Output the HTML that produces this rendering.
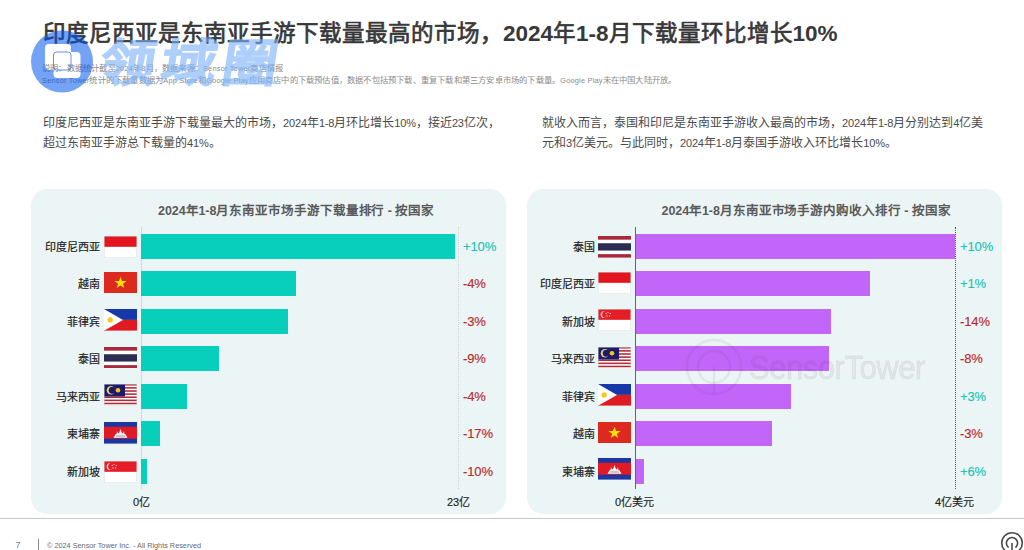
<!DOCTYPE html>
<html lang="zh-CN"><head><meta charset="utf-8">
<style>
*{margin:0;padding:0;box-sizing:border-box}
html,body{width:1024px;height:550px;overflow:hidden;background:#fff}
body{position:relative;font-family:"Liberation Sans",sans-serif;color:#333}
.a{position:absolute;white-space:nowrap}
.title{left:43px;top:19.5px;font-size:22.5px;font-weight:normal;-webkit-text-stroke:0.7px #383838;color:#383838;line-height:28px}
.tb{font-weight:bold;-webkit-text-stroke:0}
.sub{left:42px;font-size:8.3px;letter-spacing:0.2px;color:#8a8a8a;line-height:12px}
.para{font-size:12px;color:#4a4a4a;line-height:20px}
.n{font-size:11px;letter-spacing:-0.15px}
.sl{font-size:7.4px}
.panel{position:absolute;top:189px;height:325px;background:#ecf5f5;border-radius:16px}
.ctitle{font-size:12.5px;margin-top:2px;letter-spacing:-0.07px;font-weight:bold;color:#5a5a5a;line-height:16px}
.lab{font-size:11px;color:#222;font-weight:normal;-webkit-text-stroke:0.2px #222;line-height:14px;text-align:right;width:80px;margin-top:0px}
.bar{position:absolute;height:25px}
.t{background:#07cfbc}
.p{background:#c266fa}
.pct{font-size:13px;line-height:16px;font-weight:normal;-webkit-text-stroke:0.15px currentColor;letter-spacing:-0.1px}
.pos{color:#1cc4b4}
.neg{color:#b8292f}
.axl{font-size:11px;color:#222;line-height:14px;-webkit-text-stroke:0.15px #222}
.flag{position:absolute;width:33px;height:21.8px;overflow:hidden}
</style></head><body>

<svg width="0" height="0" style="position:absolute">
<defs>
<symbol id="f-id" viewBox="0 0 33 22"><rect width="33" height="11" fill="#e3161f"/><rect y="11" width="33" height="11" fill="#fff"/><rect x=".25" y=".25" width="32.5" height="21.5" fill="none" stroke="#d8d8d8" stroke-width=".5"/></symbol>
<symbol id="f-vn" viewBox="0 0 33 22"><rect width="33" height="22" fill="#dc2a1f"/><polygon fill="#ffe000" points="16.5,4.8 18,9.1 22.6,9.1 18.9,11.8 20.3,16.2 16.5,13.5 12.7,16.2 14.1,11.8 10.4,9.1 15,9.1"/></symbol>
<symbol id="f-ph" viewBox="0 0 33 22"><rect width="33" height="11" fill="#1738a8"/><rect y="11" width="33" height="11" fill="#e01a22"/><polygon points="0,0 19,11 0,22" fill="#fff"/><circle cx="6.2" cy="11" r="2.6" fill="#f7c51c"/></symbol>
<symbol id="f-th" viewBox="0 0 33 22"><rect width="33" height="22" fill="#fff"/><rect width="33" height="3.7" fill="#a8283c"/><rect y="18.3" width="33" height="3.7" fill="#a8283c"/><rect y="7.3" width="33" height="7.4" fill="#2b2d52"/></symbol>
<symbol id="f-my" viewBox="0 0 33 22"><rect width="33" height="22" fill="#fff"/>
<rect y="0" width="33" height="1.57" fill="#b02a36"/><rect y="3.14" width="33" height="1.57" fill="#b02a36"/><rect y="6.28" width="33" height="1.57" fill="#b02a36"/><rect y="9.43" width="33" height="1.57" fill="#b02a36"/><rect y="12.57" width="33" height="1.57" fill="#b02a36"/><rect y="15.71" width="33" height="1.57" fill="#b02a36"/><rect y="18.86" width="33" height="1.57" fill="#b02a36"/>
<rect width="21" height="12.6" fill="#1c1a6a"/><circle cx="7" cy="6.3" r="4.3" fill="#e0d070"/><circle cx="8.4" cy="6.3" r="3.6" fill="#1c1a6a"/><circle cx="14" cy="6.3" r="2.3" fill="#f5c21b"/><rect x=".25" y=".25" width="32.5" height="21.5" fill="none" stroke="#ccc" stroke-width=".5"/></symbol>
<symbol id="f-kh" viewBox="0 0 33 22"><rect width="33" height="22" fill="#1d36a0"/><rect y="4.8" width="33" height="12" fill="#e11b25"/><path fill="#fff" d="M9.5 16 L11.8 12 L12.6 12 L13 9 L13.8 11.4 L15 11.4 L16.5 7 L18 11.4 L19.2 11.4 L20 9 L20.4 12 L21.2 12 L23.5 16 Z"/><rect x="12" y="12.8" width="9" height="2.4" fill="#c4c8d4"/></symbol>
<symbol id="f-sg" viewBox="0 0 33 22"><rect width="33" height="11" fill="#e51d27"/><rect y="11" width="33" height="11" fill="#fff"/><circle cx="6.2" cy="5.5" r="3.6" fill="#f6c9c9"/><circle cx="7.6" cy="5.5" r="3.4" fill="#e51d27"/><g fill="#f3c0c0"><circle cx="10" cy="3.4" r=".7"/><circle cx="12.2" cy="4.6" r=".7"/><circle cx="11.6" cy="7.1" r=".7"/><circle cx="9" cy="7.1" r=".7"/><circle cx="8.2" cy="4.6" r=".7"/></g><rect x=".25" y=".25" width="32.5" height="21.5" fill="none" stroke="#d8d8d8" stroke-width=".5"/></symbol>
</defs></svg>
<div class="a title">印度尼西亚是东南亚手游下载量最高的市场，<span class="tb">2024</span>年<span class="tb">1-8</span>月下载量环比增长<span class="tb">10%</span></div>
<div class="a sub" style="top:62px">说明：数据统计截至<span class="sl">2024</span>年<span class="sl">8</span>月，数据来源：<span class="sl">Sensor Tower</span>商店情报</div>
<div class="a sub" style="top:74px"><span class="sl">Sensor Tower</span>统计的下载量数据为<span class="sl">App Store</span>和<span class="sl">Google Play</span>应用商店中的下载预估值，数据不包括预下载、重复下载和第三方安卓市场的下载量。<span class="sl">Google Play</span>未在中国大陆开放。</div>

<div class="a para" style="left:43px;top:113px">印度尼西亚是东南亚手游下载量最大的市场，<span class="n">2024</span>年<span class="n">1-8</span>月环比增长<span class="n">10%</span>，接近<span class="n">23</span>亿次，<br>超过东南亚手游总下载量的<span class="n">41%</span>。</div>
<div class="a para" style="left:542px;top:113px">就收入而言，泰国和印尼是东南亚手游收入最高的市场，<span class="n">2024</span>年<span class="n">1-8</span>月分别达到<span class="n">4</span>亿美<br>元和<span class="n">3</span>亿美元。与此同时，<span class="n">2024</span>年<span class="n">1-8</span>月泰国手游收入环比增长<span class="n">10%</span>。</div>

<div class="panel" style="left:31px;width:475px"></div>
<div class="panel" style="left:527px;width:475px"></div>

<div class="a ctitle" style="left:158px;top:201px">2024年1-8月东南亚市场手游下载量排行 - 按国家</div>
<div class="a ctitle" style="left:661.5px;top:201px">2024年1-8月东南亚市场手游内购收入排行 - 按国家</div>

<!-- left chart -->
<div class="a" style="left:141px;top:227px;width:1px;height:262px;background:#d3d9da"></div>
<div class="a" style="left:458px;top:227px;width:0;height:262px;border-left:1px dotted #ccd3d3"></div>
<div class="bar t" style="left:141px;top:234px;width:314px"></div>
<div class="bar t" style="left:141px;top:271px;width:155px"></div>
<div class="bar t" style="left:141px;top:309px;width:147px"></div>
<div class="bar t" style="left:141px;top:346px;width:78px"></div>
<div class="bar t" style="left:141px;top:384px;width:46px"></div>
<div class="bar t" style="left:141px;top:421px;width:19px"></div>
<div class="bar t" style="left:141px;top:459px;width:6px"></div>

<div class="a lab" style="left:20px;top:239.5px">印度尼西亚</div>
<div class="a lab" style="left:20px;top:276.5px">越南</div>
<div class="a lab" style="left:20px;top:314.5px">菲律宾</div>
<div class="a lab" style="left:20px;top:351.5px">泰国</div>
<div class="a lab" style="left:20px;top:389.5px">马来西亚</div>
<div class="a lab" style="left:20px;top:426.5px">柬埔寨</div>
<div class="a lab" style="left:20px;top:464.5px">新加坡</div>

<svg class="flag" style="left:104px;top:236px" viewBox="0 0 33 22" preserveAspectRatio="none"><use href="#f-id"/></svg>
<svg class="flag" style="left:104px;top:271.5px" viewBox="0 0 33 22" preserveAspectRatio="none"><use href="#f-vn"/></svg>
<svg class="flag" style="left:104px;top:309px" viewBox="0 0 33 22" preserveAspectRatio="none"><use href="#f-ph"/></svg>
<svg class="flag" style="left:104px;top:346.7px" viewBox="0 0 33 22" preserveAspectRatio="none"><use href="#f-th"/></svg>
<svg class="flag" style="left:104px;top:384px" viewBox="0 0 33 22" preserveAspectRatio="none"><use href="#f-my"/></svg>
<svg class="flag" style="left:104px;top:422.4px" viewBox="0 0 33 22" preserveAspectRatio="none"><use href="#f-kh"/></svg>
<svg class="flag" style="left:104px;top:461px" viewBox="0 0 33 22" preserveAspectRatio="none"><use href="#f-sg"/></svg>
<div class="a pct pos" style="left:463px;top:239px">+10%</div>
<div class="a pct neg" style="left:463px;top:276px">-4%</div>
<div class="a pct neg" style="left:463px;top:314px">-3%</div>
<div class="a pct neg" style="left:463px;top:351px">-9%</div>
<div class="a pct neg" style="left:463px;top:389px">-4%</div>
<div class="a pct neg" style="left:463px;top:426px">-17%</div>
<div class="a pct neg" style="left:463px;top:464px">-10%</div>

<div class="a axl" style="left:133px;top:495px">0亿</div>
<div class="a axl" style="left:447px;top:495px">23亿</div>

<!-- right chart -->
<div class="a" style="left:635px;top:227px;width:1px;height:262px;background:#666"></div>
<div class="a" style="left:955px;top:227px;width:0;height:262px;border-left:1px dotted #555"></div>
<div class="bar p" style="left:636px;top:234px;width:319px"></div>
<div class="bar p" style="left:636px;top:271px;width:234px"></div>
<div class="bar p" style="left:636px;top:309px;width:195px"></div>
<div class="bar p" style="left:636px;top:346px;width:193px"></div>
<div class="bar p" style="left:636px;top:384px;width:155px"></div>
<div class="bar p" style="left:636px;top:421px;width:136px"></div>
<div class="bar p" style="left:636px;top:459px;width:8px"></div>

<div class="a lab" style="left:515px;top:239.5px">泰国</div>
<div class="a lab" style="left:515px;top:276.5px">印度尼西亚</div>
<div class="a lab" style="left:515px;top:314.5px">新加坡</div>
<div class="a lab" style="left:515px;top:351.5px">马来西亚</div>
<div class="a lab" style="left:515px;top:389.5px">菲律宾</div>
<div class="a lab" style="left:515px;top:426.5px">越南</div>
<div class="a lab" style="left:515px;top:464.5px">柬埔寨</div>

<svg class="flag" style="left:598px;top:236px" viewBox="0 0 33 22" preserveAspectRatio="none"><use href="#f-th"/></svg>
<svg class="flag" style="left:598px;top:272.3px" viewBox="0 0 33 22" preserveAspectRatio="none"><use href="#f-id"/></svg>
<svg class="flag" style="left:598px;top:309.3px" viewBox="0 0 33 22" preserveAspectRatio="none"><use href="#f-sg"/></svg>
<svg class="flag" style="left:598px;top:346.6px" viewBox="0 0 33 22" preserveAspectRatio="none"><use href="#f-my"/></svg>
<svg class="flag" style="left:598px;top:384px" viewBox="0 0 33 22" preserveAspectRatio="none"><use href="#f-ph"/></svg>
<svg class="flag" style="left:598px;top:421.6px" viewBox="0 0 33 22" preserveAspectRatio="none"><use href="#f-vn"/></svg>
<svg class="flag" style="left:598px;top:458px" viewBox="0 0 33 22" preserveAspectRatio="none"><use href="#f-kh"/></svg>
<div class="a pct pos" style="left:960px;top:239px">+10%</div>
<div class="a pct pos" style="left:960px;top:276px">+1%</div>
<div class="a pct neg" style="left:960px;top:314px">-14%</div>
<div class="a pct neg" style="left:960px;top:351px">-8%</div>
<div class="a pct pos" style="left:960px;top:389px">+3%</div>
<div class="a pct neg" style="left:960px;top:426px">-3%</div>
<div class="a pct pos" style="left:960px;top:464px">+6%</div>

<div class="a axl" style="left:615px;top:495px">0亿美元</div>
<div class="a axl" style="left:935px;top:495px">4亿美元</div>


<!-- watermark logo -->
<svg class="a" style="left:0;top:0" width="120" height="100">
  <defs><mask id="wm"><rect width="120" height="100" fill="#fff"/>
    <rect x="45" y="44" width="26" height="26" rx="4" fill="#000"/>
    <rect x="53.5" y="52" width="27" height="26" rx="4" fill="#000"/>
  </mask></defs>
  <circle cx="62" cy="61.5" r="31" fill="rgba(0,86,238,0.55)" mask="url(#wm)"/>
  <rect x="53.5" y="52" width="17.5" height="18" rx="3" fill="none" stroke="rgba(40,110,240,0.75)" stroke-width="1"/>
</svg>
<div class="a" style="left:96px;top:29px;font-size:55px;line-height:64px;font-weight:900;color:rgb(125,178,250);-webkit-text-stroke:1.4px rgb(125,178,250);opacity:0.62;transform:skewX(-9deg) scaleY(0.92);transform-origin:0 100%;letter-spacing:6px">领域圈</div>

<!-- footer -->
<div class="a" style="left:0;top:518px;width:1024px;height:1px;background:#c8c8c8"></div>
<div class="a" style="left:15.5px;top:539.5px;font-size:9px;line-height:10px;color:#7a7a7a">7</div>
<div class="a" style="left:38px;top:539px;width:1px;height:11px;background:#8a8a8a"></div>
<div class="a" style="left:47px;top:540.5px;font-size:7.3px;line-height:9px;color:#6a6a6a">© 2024 Sensor Tower Inc. - All Rights Reserved</div>
<svg class="a" style="left:996px;top:526px" width="28" height="24" viewBox="0 0 28 24">
  <circle cx="16" cy="17" r="10.3" fill="none" stroke="#4a4a4a" stroke-width="1.6"/>
  <path d="M12.6 21.6 A5.6 5.6 0 1 1 19.4 21.6" fill="none" stroke="#4a4a4a" stroke-width="1.6"/>
  <line x1="16" y1="17" x2="16" y2="24" stroke="#4a4a4a" stroke-width="1.6"/>
</svg>
<!-- sensortower watermark -->
<svg class="a" style="left:680px;top:330px" width="260" height="80" viewBox="0 0 260 80">
  <g fill="none" stroke="rgba(60,60,60,0.075)" stroke-width="2.5"><circle cx="34" cy="37" r="27"/><circle cx="34" cy="37" r="16"/><line x1="34" y1="37" x2="34" y2="64"/></g>
</svg>
<div class="a" style="left:749px;top:348px;font-size:33px;line-height:40px;color:rgba(60,60,60,0.07);-webkit-text-stroke:0.9px rgba(60,60,60,0.07);letter-spacing:-0.5px;transform:scaleX(0.94);transform-origin:0 0">SensorTower</div>
</body></html>
